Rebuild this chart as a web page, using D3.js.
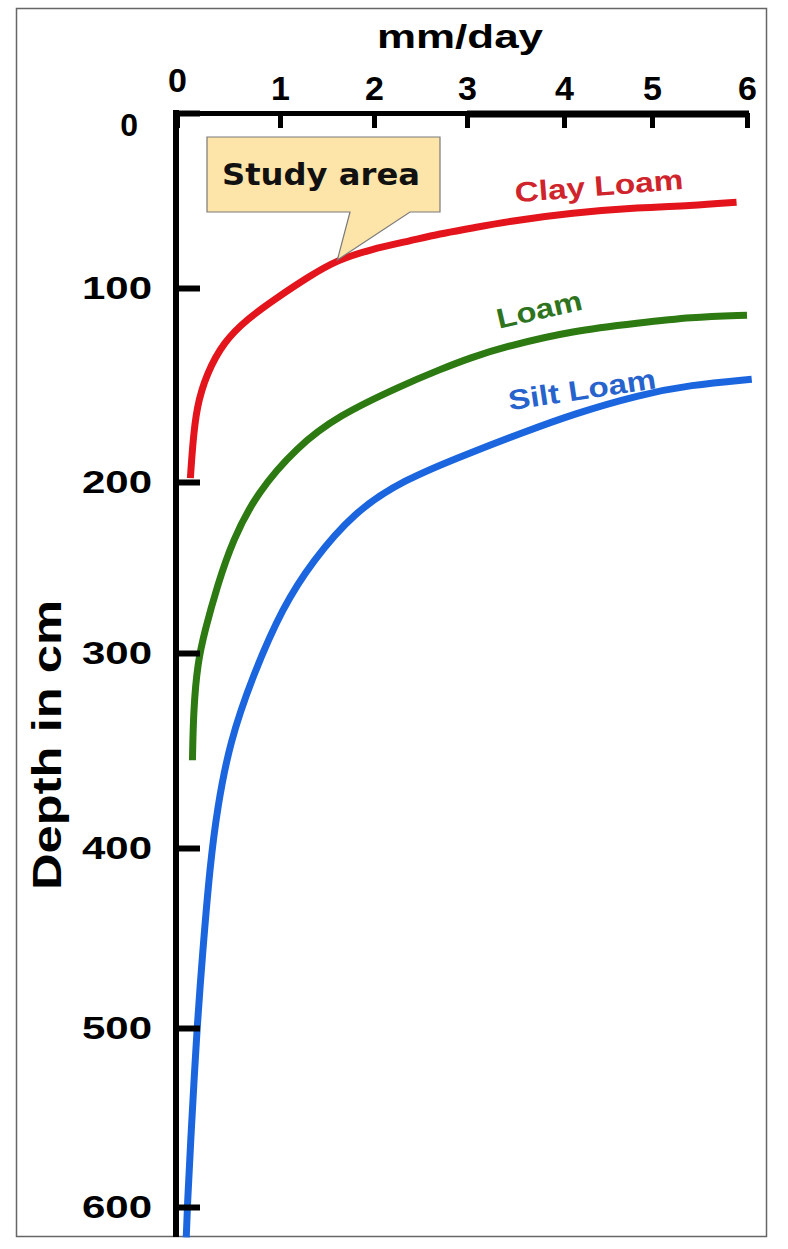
<!DOCTYPE html>
<html>
<head>
<meta charset="utf-8">
<script src="https://cdn.jsdelivr.net/npm/d3@7"></script>
<style>
body { margin: 0; background: #fff; }
</style>
</head>
<body>
<div id="container"></div>
<script>
// axis ticks
var rateTicks = [0, 1, 2, 3, 4, 5, 6];
var depthTicks = [0, 100, 200, 300, 400, 500, 600];

// [mm/day, depth in cm]
var clayLoam = [[0.13, 198], [0.15, 182], [0.19, 161], [0.29, 144], [0.45, 128], [0.68, 116],
	[0.97, 105], [1.32, 93], [1.61, 84], [1.96, 78], [2.39, 73], [2.71, 69], [3.03, 66],
	[3.41, 62], [4.10, 57], [4.86, 54], [5.40, 53], [5.89, 51]];
var loam = [[0.15, 355], [0.16, 329], [0.20, 305], [0.27, 287], [0.39, 261], [0.54, 234],
	[0.78, 206], [1.18, 182], [1.61, 166], [2.31, 150], [2.71, 142], [3.03, 136],
	[3.41, 130], [4.10, 122], [4.86, 118], [5.40, 115], [6.0, 114]];
var siltLoam = [[0.09, 617], [0.10, 600], [0.13, 566], [0.19, 503], [0.25, 457], [0.32, 410],
	[0.39, 380], [0.51, 346], [0.74, 311], [1.03, 273], [1.35, 246], [1.78, 218],
	[2.31, 199], [3.03, 185], [3.55, 175], [4.10, 165], [4.86, 155], [5.40, 150], [6.05, 147]];

var seriesNames = ['Clay Loam', 'Loam', 'Silt Loam'];
var studyArea = [1.61, 84];

var width = 788;
var height = 1249;

var svg = d3.select('#container')
	.append('svg')
	.attr('width', width)
	.attr('height', height);

// the original axes are not evenly spaced, so piecewise scales
var x = d3.scaleLinear()
	.domain(rateTicks)
	.range([177, 280, 374, 467, 564, 652, 747]);

var y = d3.scaleLinear()
	.domain(depthTicks)
	.range([113, 288, 482, 653, 848, 1028, 1207]);

// frame
svg.append('rect')
	.attr('x', 16.5)
	.attr('y', 8.5)
	.attr('width', 750)
	.attr('height', 1228)
	.attr('fill', 'none')
	.attr('stroke', '#666')
	.attr('stroke-width', 1.5);

// curves
var series = [
	{name: seriesNames[0], values: clayLoam, color: '#e3141c', text: '#d0242c',
		label: {at: [3.50, 51], angle: -4.5, len: 169}},
	{name: seriesNames[1], values: loam, color: '#2d7a12', text: '#2e7420',
		label: {at: [3.33, 121], angle: -13, len: 87}},
	{name: seriesNames[2], values: siltLoam, color: '#1b66de', text: '#2763cc',
		label: {at: [3.44, 163], angle: -8.5, len: 149}}
];

var line = d3.line()
	.x((d) => x(d[0]))
	.y((d) => y(d[1]))
	.curve(d3.curveBasis);

svg.selectAll('path.curve')
	.data(series)
	.enter()
	.append('path')
	.attr('class', 'curve')
	.attr('d', (d) => line(d.values))
	.attr('fill', 'none')
	.attr('stroke', (d) => d.color)
	.attr('stroke-width', 7);

svg.selectAll('text.series')
	.data(series)
	.enter()
	.append('text')
	.attr('class', 'series')
	.attr('transform', (d) => 'translate(' + x(d.label.at[0]) + ',' + y(d.label.at[1]) + ') rotate(' + d.label.angle + ')')
	.attr('font-family', 'Liberation Sans, Arial, sans-serif')
	.attr('font-weight', 'bold')
	.attr('font-size', 28)
	.attr('textLength', (d) => d.label.len)
	.attr('lengthAdjust', 'spacingAndGlyphs')
	.attr('fill', (d) => d.text)
	.text((d) => d.name);

// callout
var tipX = x(studyArea[0]);
var tipY = y(studyArea[1]);
svg.append('path')
	.attr('d', 'M207,137 L440,137 L440,212 L410,212 L' + tipX + ',' + tipY + ' L350,212 L207,212 Z')
	.attr('fill', '#fde4a8')
	.attr('stroke', '#7a7a7a')
	.attr('stroke-width', 1.2);

svg.append('text')
	.attr('x', 222)
	.attr('y', 185)
	.attr('font-family', 'DejaVu Sans, Verdana, sans-serif')
	.attr('font-weight', 'bold')
	.attr('font-size', 30)
	.attr('textLength', 198)
	.attr('lengthAdjust', 'spacingAndGlyphs')
	.attr('fill', '#111')
	.text('Study area');

// y axis
var yAxis = d3.axisLeft(y)
	.tickValues(depthTicks)
	.tickFormat(d3.format('d'))
	.tickSizeInner(-23)
	.tickSizeOuter(0)
	.tickPadding(25);

var gy = svg.append('g')
	.attr('transform', 'translate(' + x(0) + ',0)')
	.call(yAxis);

gy.select('.domain').remove();
gy.selectAll('.tick line')
	.attr('stroke', '#000')
	.attr('stroke-width', 6);
gy.selectAll('.tick text')
	.attr('font-family', 'Liberation Sans, Arial, sans-serif')
	.attr('font-weight', 'bold')
	.attr('font-size', 32)
	.attr('fill', '#000')
	.attr('textLength', (d) => d === 0 ? null : 70)
	.attr('lengthAdjust', 'spacingAndGlyphs');
gy.selectAll('.tick text')
	.filter((d) => d === 0)
	.attr('dx', -14)
	.attr('y', 12);

svg.append('line')
	.attr('x1', x(0) - 1)
	.attr('x2', x(0) - 1)
	.attr('y1', y(0) - 3)
	.attr('y2', 1237)
	.attr('stroke', '#000')
	.attr('stroke-width', 6);

// x axis on top
var xAxis = d3.axisTop(x)
	.tickValues(rateTicks)
	.tickFormat(d3.format('d'))
	.tickSizeInner(-15)
	.tickSizeOuter(0)
	.tickPadding(13);

var gx = svg.append('g')
	.attr('transform', 'translate(0,' + y(0) + ')')
	.call(xAxis);

gx.select('.domain')
	.attr('stroke', '#000')
	.attr('stroke-width', 5);
gx.selectAll('.tick line')
	.attr('stroke', '#000')
	.attr('stroke-width', 5);
gx.selectAll('.tick text')
	.attr('font-family', 'Liberation Sans, Arial, sans-serif')
	.attr('font-weight', 'bold')
	.attr('font-size', 34)
	.attr('fill', '#000');
gx.selectAll('.tick text')
	.filter((d) => d === 0)
	.attr('y', -21);

// heavier right half of the top axis
svg.append('line')
	.attr('x1', x(3))
	.attr('x2', x(6) + 2)
	.attr('y1', y(0) + 1)
	.attr('y2', y(0) + 1)
	.attr('stroke', '#000')
	.attr('stroke-width', 7);

// axis titles
svg.append('text')
	.attr('x', 460)
	.attr('y', 48)
	.attr('text-anchor', 'middle')
	.attr('font-family', 'Liberation Sans, Arial, sans-serif')
	.attr('font-weight', 'bold')
	.attr('font-size', 34)
	.attr('textLength', 166)
	.attr('lengthAdjust', 'spacingAndGlyphs')
	.text('mm/day');

svg.append('text')
	.attr('transform', 'translate(61,745) rotate(-90)')
	.attr('text-anchor', 'middle')
	.attr('font-family', 'Liberation Sans, Arial, sans-serif')
	.attr('font-weight', 'bold')
	.attr('font-size', 40)
	.attr('textLength', 290)
	.attr('lengthAdjust', 'spacingAndGlyphs')
	.text('Depth in cm');
</script>
</body>
</html>
